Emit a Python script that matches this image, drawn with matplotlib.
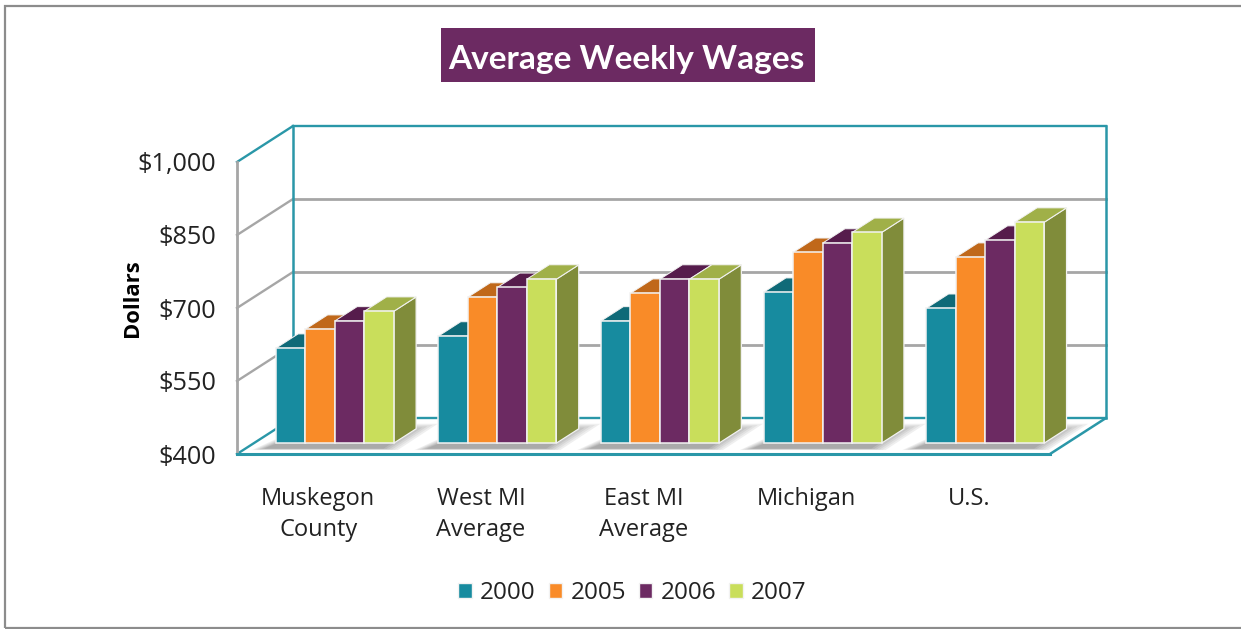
import matplotlib
matplotlib.use("Agg")
import matplotlib.pyplot as plt
from matplotlib.patches import Polygon, Rectangle, Patch

categories = ["Muskegon\nCounty", "West MI\nAverage", "East MI\nAverage", "Michigan", "U.S."]
series_names = ["2000", "2005", "2006", "2007"]
wages_2000 = [595, 620, 651, 710, 677]
wages_2005 = [634, 700, 708, 792, 782]
wages_2006 = [651, 720, 737, 811, 817]
wages_2007 = [671, 737, 737, 833, 854]
y_ticks = [400, 550, 700, 850, 1000]
y_tick_labels = ["$400", "$550", "$700", "$850", "$1,000"]

series = [wages_2000, wages_2005, wages_2006, wages_2007]
front_colors = ["#178B9F", "#F98B28", "#6C2A62", "#C9DE5B"]
top_colors = ["#0F6A78", "#C0681A", "#561C4C", "#A0B048"]
side_colors = ["#0F6A78", "#B5651D", "#4E1A46", "#808C3A"]
TEAL = "#2A97A8"
GRID = "#A6A6A6"
FONT = ["Open Sans", "DejaVu Sans"]

W, H = 1241, 629
fig = plt.figure(figsize=(W / 100, H / 100), dpi=100, facecolor="white")
fig.add_artist(Rectangle((5 / W, 1 / H), 1240 / W, 622 / H, transform=fig.transFigure,
                         fill=False, edgecolor="#8C8C8C", linewidth=1.6))
ax = fig.add_axes([237 / W, (H - 454) / H, 813 / W, 292 / H])
ax.set_xlim(0, 5)
ax.set_ylim(400, 1000)
ax.patch.set_visible(False)
for s in ax.spines.values():
    s.set_visible(False)

DX = 56 / (813 / 5)     # depth shift along x, in category units
DY = 36 / (292 / 600)   # depth shift along y, in dollars

def pt(x, y, d=0.0):
    return (x + d * DX, y + d * DY)

def line(p, q, color, lw=1.6, z=1):
    ax.plot([p[0], q[0]], [p[1], q[1]], color=color, lw=lw, zorder=z,
            clip_on=False, solid_capstyle="projecting")

# walls and gridlines
for v in y_ticks:
    edge = v in (y_ticks[0], y_ticks[-1])
    line(pt(0, v), pt(0, v, 1), TEAL if edge else GRID, 1.7)
    line(pt(0, v, 1), pt(5, v, 1), TEAL if edge else GRID, 1.7 if edge else 2.0)
line(pt(0, 400), pt(0, 1000), GRID, 2.0)
line(pt(0, 400, 1), pt(0, 1000, 1), TEAL, 1.8, 2)
line(pt(5, 400, 1), pt(5, 1000, 1), TEAL, 1.8, 2)
line(pt(0, 400), pt(5, 400), TEAL, 2.2, 2)
line(pt(5, 400), pt(5, 400, 1), TEAL, 1.8, 2)

# bars
X0, BW = 0.135, 0.1814
D0, D1 = 0.30, 0.70
shadow_layers = ["#EFEFEF", "#E2E2E2", "#D4D4D4", "#C6C6C6", "#B8B8B8", "#AAAAAA"]
for i in range(len(categories)):
    left = i + X0
    right = left + BW * len(series)
    # floor shadow: soft layers, darkest next to the bars
    for k, col in enumerate(shadow_layers):
        ax.add_patch(Polygon([pt(left - 0.08 + k * 0.012, 400, 0.11 + k * 0.008),
                              pt(right + 0.09 - k * 0.02, 400, 0.11 + k * 0.008),
                              pt(right + 0.085 - k * 0.02, 400, 0.84 - k * 0.035),
                              pt(left + 0.02 + k * 0.012, 400, 0.84 - k * 0.035)],
                             closed=True, facecolor=col, edgecolor="none",
                             zorder=3, clip_on=False))
    for j, vals in enumerate(series):
        v = vals[i]
        x0 = left + j * BW
        x1 = x0 + BW
        edge = "#F2F2F2"
        z = 4 + j * 0.1
        ax.add_patch(Polygon([pt(x1, 400, D0), pt(x1, 400, D1), pt(x1, v, D1), pt(x1, v, D0)],
                             closed=True, facecolor=side_colors[j], edgecolor=edge, lw=0.9,
                             zorder=z, clip_on=False))
        ax.add_patch(Polygon([pt(x0, v, D0), pt(x1, v, D0), pt(x1, v, D1), pt(x0, v, D1)],
                             closed=True, facecolor=top_colors[j], edgecolor=edge, lw=0.7,
                             zorder=z, clip_on=False))
        ax.add_patch(Polygon([pt(x0, 400, D0), pt(x1, 400, D0), pt(x1, v, D0), pt(x0, v, D0)],
                             closed=True, facecolor=front_colors[j], edgecolor=edge, lw=1.1,
                             zorder=z + 0.05, clip_on=False))

# axes text
ax.set_yticks(y_ticks)
ax.set_yticklabels(y_tick_labels, fontsize=18.2, color="#222222", family=FONT)
ax.tick_params(axis="y", length=0, pad=15)
ax.set_xticks([i + 0.5 for i in range(len(categories))])
ax.set_xticklabels(categories, fontsize=17, color="#222222", family=FONT, linespacing=1.43)
ax.tick_params(axis="x", length=0, pad=23.5)
fig.text(132 / W, 1 - 298 / H, "Dollars", rotation=90, ha="center", va="center",
         fontsize=15.8, fontweight="bold", color="black", family=FONT)

# title
fig.add_artist(Rectangle((441 / W, 1 - 82 / H), 374 / W, 54 / H, transform=fig.transFigure,
                         facecolor="#6C2A62", edgecolor="none"))
fig.text(626 / W, 1 - 59 / H, "Average Weekly Wages", ha="center", va="center",
         fontsize=24, fontweight="bold", color="white", family=["Lato", "DejaVu Sans"], zorder=5)

# legend
handles = [Patch(facecolor=c, edgecolor="#F2F2F2", label=n) for c, n in zip(front_colors, series_names)]
fig.legend(handles=handles, ncol=4, loc="center", bbox_to_anchor=(632.5 / W, 1 - 593 / H),
           frameon=False, handlelength=0.55, handleheight=0.55, handletextpad=0.35,
           columnspacing=0.53, prop={"family": FONT, "size": 17.5}, labelcolor="#222222")

fig.savefig("out.png", dpi=100)
